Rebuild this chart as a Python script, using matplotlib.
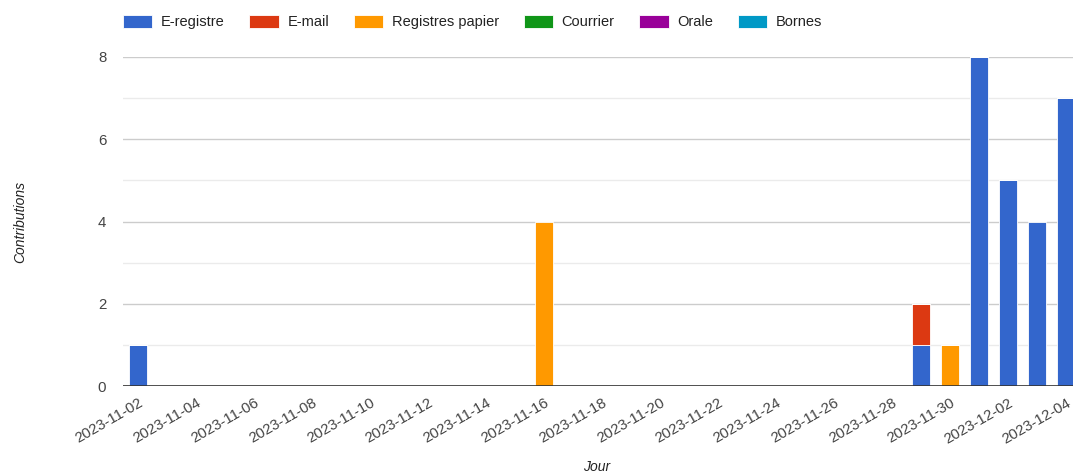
import datetime as dt
import matplotlib
matplotlib.use('Agg')
import matplotlib.pyplot as pl
from matplotlib.ticker import MultipleLocator

# daily contributions, 2023-11-02 .. 2023-12-04
start = dt.date(2023, 11, 2)
days = [start + dt.timedelta(days=i) for i in range(33)]
labels = [d.isoformat() for d in days]

e_registre = [1, 0, 0, 0, 0, 0, 0, 0, 0, 0, 0, 0, 0, 0, 0, 0, 0, 0, 0, 0, 0, 0,
              0, 0, 0, 0, 0, 1, 0, 8, 5, 4, 7]
e_mail = [0, 0, 0, 0, 0, 0, 0, 0, 0, 0, 0, 0, 0, 0, 0, 0, 0, 0, 0, 0, 0, 0,
          0, 0, 0, 0, 0, 1, 0, 0, 0, 0, 0]
papier = [0, 0, 0, 0, 0, 0, 0, 0, 0, 0, 0, 0, 0, 0, 4, 0, 0, 0, 0, 0, 0, 0,
          0, 0, 0, 0, 0, 0, 1, 0, 0, 0, 0]
courrier = [0] * 33
orale = [0] * 33
bornes = [0] * 33

series = [('E-registre', e_registre, '#3366cc'),
          ('E-mail', e_mail, '#dc3912'),
          ('Registres papier', papier, '#ff9900'),
          ('Courrier', courrier, '#109618'),
          ('Orale', orale, '#990099'),
          ('Bornes', bornes, '#0099c6')]

pl.rcParams['font.family'] = ['Liberation Sans', 'DejaVu Sans']

fig = pl.figure(figsize=(10.73, 4.75), dpi=100)
ax = fig.add_axes([123 / 1073, 1 - 386 / 475, 1.0 - 123 / 1073, (386 - 57) / 475])

x = list(range(len(days)))
bottom = [0] * len(days)
for name, vals, col in series:
    ax.bar(x, vals, width=0.62, bottom=bottom, color=col, label=name,
           edgecolor='white', linewidth=0.6, zorder=3)
    bottom = [b + v for b, v in zip(bottom, vals)]

ax.set_ylim(0, 8)
ax.set_xlim(-0.52, 32.24)
ax.yaxis.set_major_locator(MultipleLocator(2))
ax.yaxis.set_minor_locator(MultipleLocator(1))
ax.grid(which='major', axis='y', color='#cccccc', linewidth=1, zorder=0)
ax.grid(which='minor', axis='y', color='#ebebeb', linewidth=1, zorder=0)
ax.axhline(0, color='#333333', linewidth=1.2, zorder=4)
for s in ax.spines.values():
    s.set_visible(False)

ax.set_xticks(x[::2])
ax.set_xticklabels(labels[::2], rotation=30, ha='right', rotation_mode='anchor',
                   fontsize=10.8, color='#444444')
ax.tick_params(axis='x', length=0, pad=7)
ax.tick_params(axis='y', which='both', length=0, pad=12, labelsize=10.8, labelcolor='#444444')

ax.set_xlabel('Jour', style='italic', fontsize=10, color='#222222')
ax.xaxis.set_label_coords((597 - 123) / (1073 - 123), -0.225)
ax.set_ylabel('Contributions', style='italic', fontsize=10, color='#222222')
ax.yaxis.set_label_coords(-0.101, 0.5)

leg = ax.legend(ncol=6, loc='lower left', bbox_to_anchor=(0.0, 1.085), frameon=False,
                fontsize=10.5, handlelength=2.0, handleheight=1.0, handletextpad=0.6,
                columnspacing=1.7, borderaxespad=0, borderpad=0)
for t in leg.get_texts():
    t.set_color('#222222')

fig.savefig('out.png', dpi=100)
